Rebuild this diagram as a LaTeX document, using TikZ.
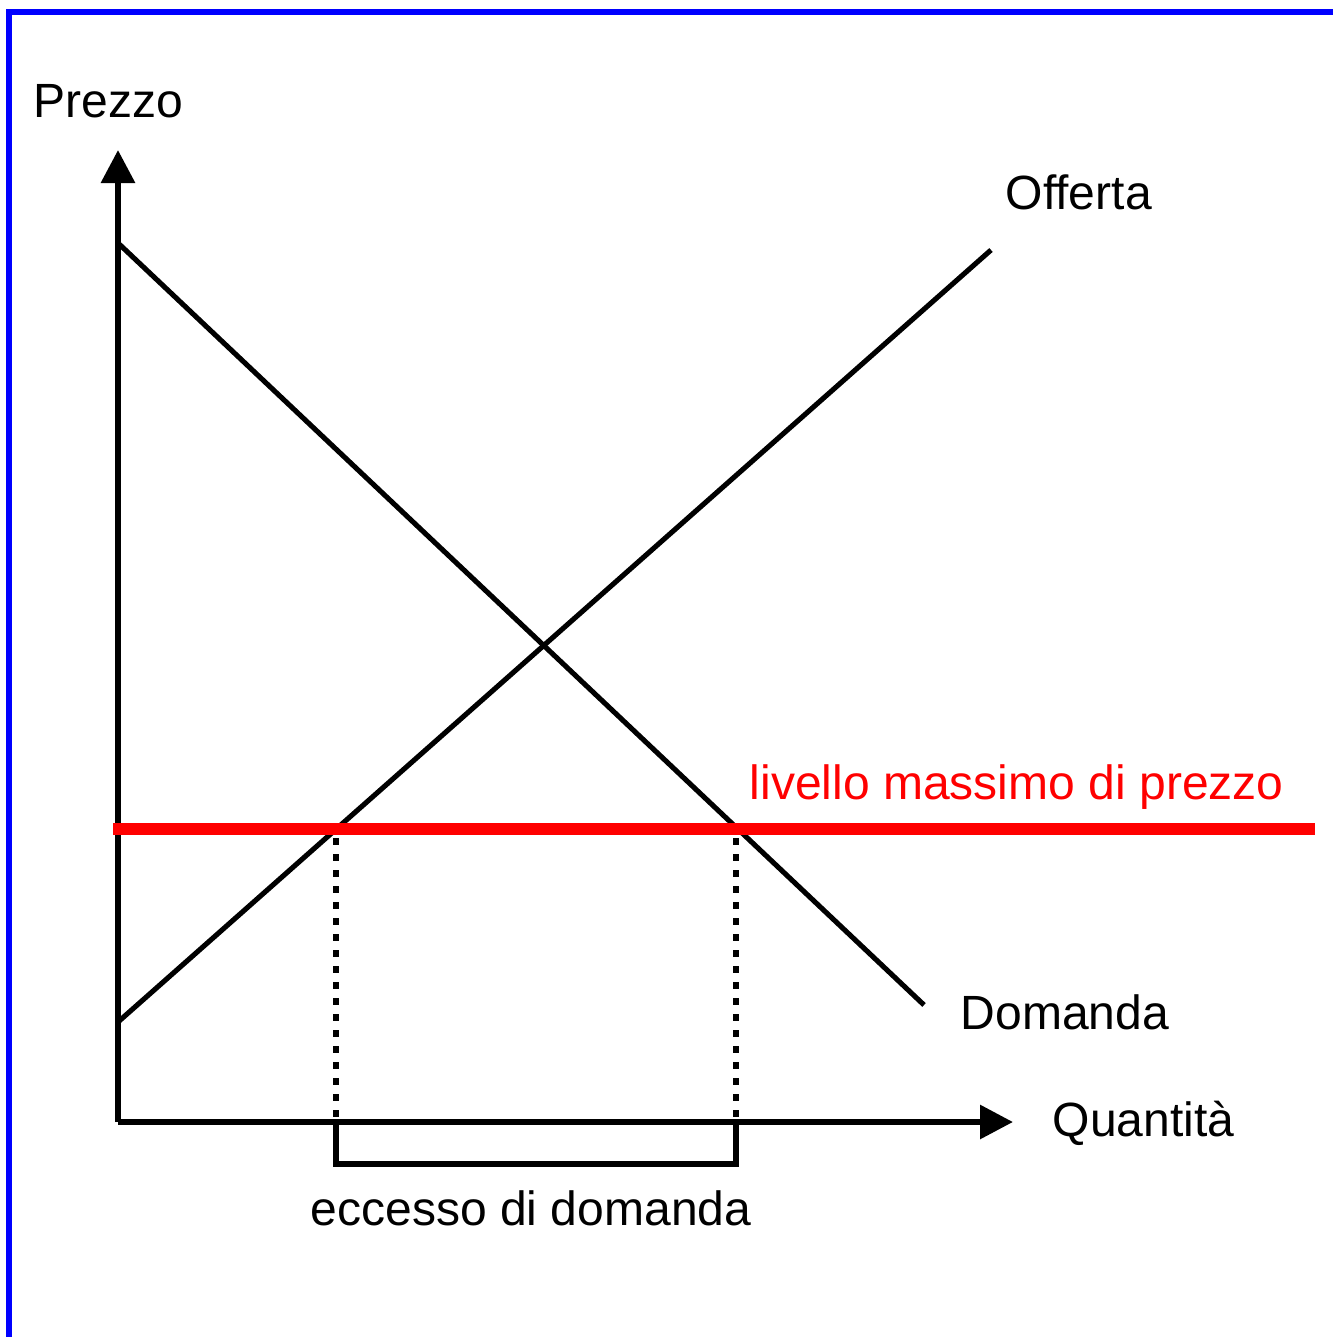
\documentclass[tikz,border=0pt]{standalone}
\usepackage{fontspec}
\setmainfont{Liberation Sans}
\usetikzlibrary{arrows.meta}
\begin{document}
\begin{tikzpicture}[x=0.01cm,y=-0.01cm,
  lbl/.style={anchor=base west,inner sep=0pt,font=\fontsize{13.66pt}{16pt}\selectfont},
  axis/.style={line width=1.75pt,-{Triangle[length=0.33cm,width=0.33cm]}},
  curve/.style={line width=1.45pt},
  guide/.style={line width=1.9pt,dash pattern=on 0.07cm off 0.09cm},
  bracket/.style={line width=1.45pt}]
\useasboundingbox (0,0) rectangle (1333,1337);
\fill[white] (0,0) rectangle (1333,1337);
% blue frame (top and left)
\draw[blue,line width=1.7pt] (9,1337) -- (9,12) -- (1333,12);
% coordinates
\coordinate (O) at (118,1122);
\coordinate (ytip) at (118,150);
\coordinate (xtip) at (1013,1122);
\coordinate (d0) at (118,243);
\coordinate (d1) at (924,1005);
\coordinate (s0) at (118,1022);
\coordinate (s1) at (991,250);
\coordinate (r0) at (113,829);
\coordinate (r1) at (1315,829);
\coordinate (g1t) at (336,838);
\coordinate (g1b) at (336,1118);
\coordinate (g2t) at (736,838);
\coordinate (g2b) at (736,1118);
\coordinate (b1) at (336,1122);
\coordinate (b2) at (336,1164);
\coordinate (b3) at (736,1164);
\coordinate (b4) at (736,1122);
% curves
\draw[curve] (d0) -- (d1);
\draw[curve] (s0) -- (s1);
% axes
\draw[axis] (O) -- (ytip);
\draw[axis] (O) -- (xtip);
% guides
\draw[guide] (g1t) -- (g1b);
\draw[guide] (g2t) -- (g2b);
% bracket
\draw[bracket] (b1) -- (b2) -- (b3) -- (b4);
% price ceiling
\draw[red,line width=3.4pt] (r0) -- (r1);
% labels
\node[lbl] (prezzo) at (33,118) {Prezzo};
\node[lbl] (offerta) at (1005,210) {Offerta};
\node[lbl] (domanda) at (960,1029) {Domanda};
\node[lbl] (quantita) at (1052,1136) {Quantità};
\node[lbl] (eccesso) at (310,1225) {eccesso di domanda};
\node[lbl,text=red] (livello) at (749,799) {livello massimo di prezzo};
\end{tikzpicture}
\end{document}
